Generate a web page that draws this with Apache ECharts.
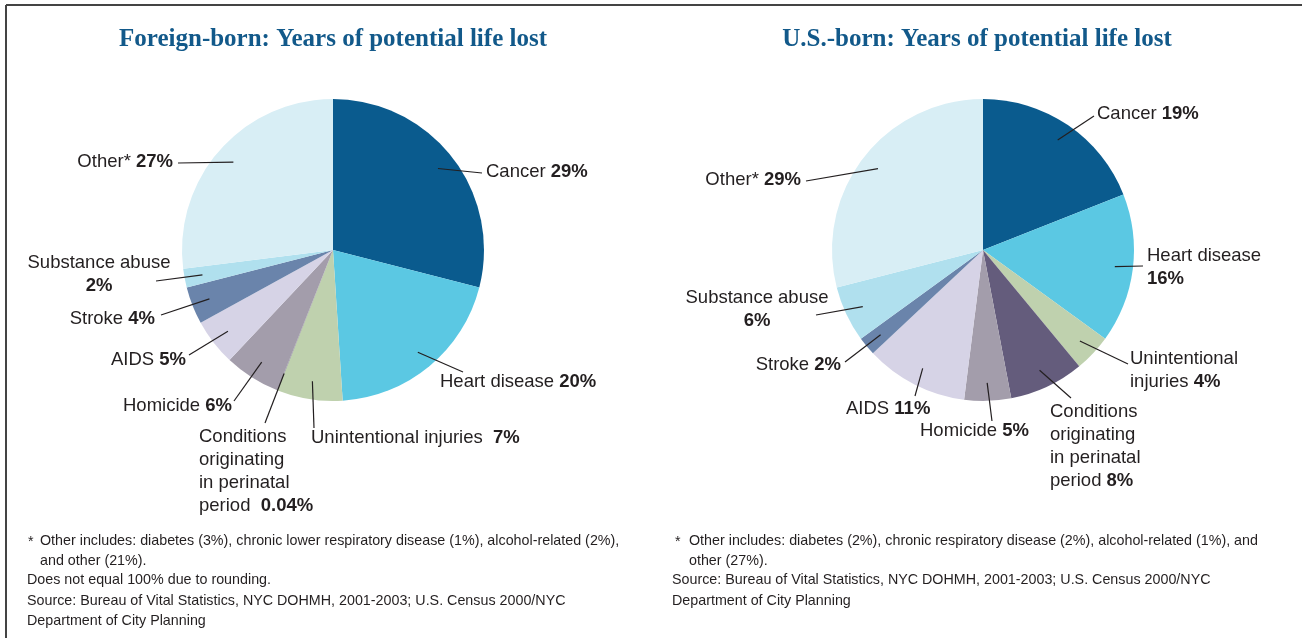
<!DOCTYPE html>
<html>
<head>
<meta charset="utf-8">
<script src="https://cdn.jsdelivr.net/npm/echarts@6/dist/echarts.min.js"></script>
<style>
  html, body { margin: 0; padding: 0; background: #fff; }
  #chart { width: 1302px; height: 638px; }
</style>
</head>
<body>
<div id="chart"></div>
<script>
// causes, clockwise from 12 o'clock
const causes = ['Cancer', 'Heart disease', 'Unintentional injuries', 'Conditions originating in perinatal period',
  'Homicide', 'AIDS', 'Stroke', 'Substance abuse', 'Other*'];
const foreignBorn = [29, 20, 7, 0.04, 6, 5, 4, 2, 27];
const usBorn = [19, 16, 4, 8, 5, 11, 2, 6, 29];

// label text (line breaks differ between the two charts)
const foreignLabelNames = ['Cancer', 'Heart disease', 'Unintentional injuries ', 'Conditions\noriginating\nin perinatal\nperiod ',
  'Homicide', 'AIDS', 'Stroke', 'Substance abuse\n', 'Other*'];
const usLabelNames = ['Cancer', 'Heart disease\n', 'Unintentional\ninjuries', 'Conditions\noriginating\nin perinatal\nperiod',
  'Homicide', 'AIDS', 'Stroke', 'Substance abuse\n', 'Other*'];
const foreignPct = ['29%', '20%', '7%', '0.04%', '6%', '5%', '4%', '2%', '27%'];
const usPct = ['19%', '16%', '4%', '8%', '5%', '11%', '2%', '6%', '29%'];

const sliceColors = ['#0a5b8e', '#5bc8e3', '#bfd1ae', '#645c7c', '#a39dab', '#d6d3e6', '#6a84ab', '#b0e0ee', '#d8eef5'];

// label placement: anchor, alignment, where the leader line ends
const foreignLabelPos = [
  { x: 486, y: 172, align: 'left', end: [482, 173] },
  { x: 440, y: 382, align: 'left', end: [463, 372] },
  { x: 311, y: 438, align: 'left', end: [314, 428] },
  { x: 199, y: 471, align: 'left', end: [265, 423] },
  { x: 232, y: 406, align: 'right', end: [234, 401] },
  { x: 186, y: 360, align: 'right', end: [189, 355] },
  { x: 155, y: 319, align: 'right', end: [161, 315] },
  { x: 99, y: 274, align: 'center', end: [156, 281] },
  { x: 173, y: 162, align: 'right', end: [178, 163] }
];
const usLabelPos = [
  { x: 1097, y: 114, align: 'left', end: [1094, 116] },
  { x: 1147, y: 267, align: 'left', end: [1143, 266] },
  { x: 1130, y: 370, align: 'left', end: [1128, 364] },
  { x: 1050, y: 446, align: 'left', end: [1071, 398] },
  { x: 920, y: 431, align: 'left', end: [992, 421] },
  { x: 846, y: 409, align: 'left', end: [915, 396] },
  { x: 841, y: 365, align: 'right', end: [845, 362] },
  { x: 757, y: 309, align: 'center', end: [816, 315] },
  { x: 801, y: 180, align: 'right', end: [806, 181] }
];

const pieCenters = [[333, 250], [983, 250]];
const pieRadius = 151;
const labelFont = 'Liberation Sans, Arial, sans-serif';

const chart = echarts.init(document.getElementById('chart'));

// coloured slices, no labels
function sliceSeries(idx, values) {
  return {
    type: 'pie',
    center: pieCenters[idx],
    radius: pieRadius,
    startAngle: 90,
    silent: true,
    z: 2,
    itemStyle: { borderWidth: 0 },
    label: { show: false },
    labelLine: { show: false },
    data: values.map((v, i) => ({ name: causes[i], value: v, itemStyle: { color: sliceColors[i] } }))
  };
}

// same pie, transparent, on top: carries labels and leader lines
function labelSeries(idx, values, names, pcts, pos) {
  const c = pieCenters[idx];
  return {
    type: 'pie',
    center: c,
    radius: pieRadius,
    startAngle: 90,
    silent: true,
    z: 5,
    avoidLabelOverlap: false,
    itemStyle: { color: 'rgba(0,0,0,0)', borderWidth: 0 },
    label: {
      show: true,
      position: 'outside',
      formatter: p => {
        const n = names[p.dataIndex];
        return '{n|' + n + '}' + (n.endsWith('\n') ? '' : ' ') + '{b|' + pcts[p.dataIndex] + '}';
      },
      color: '#231f20',
      fontFamily: labelFont,
      fontSize: 18.5,
      lineHeight: 23,
      rich: {
        n: { fontSize: 18.5, lineHeight: 23, color: '#231f20', fontFamily: labelFont },
        b: { fontSize: 18.5, lineHeight: 23, fontWeight: 'bold', color: '#231f20', fontFamily: labelFont }
      }
    },
    labelLine: {
      show: true,
      length: 10,
      length2: 10,
      lineStyle: { color: '#231f20', width: 1.2 }
    },
    labelLayout: params => {
      const p = pos[params.dataIndex];
      const edge = params.labelLinePoints ? params.labelLinePoints[0] : p.end;
      const k = 0.88;
      const start = [c[0] + (edge[0] - c[0]) * k, c[1] + (edge[1] - c[1]) * k];
      return {
        x: p.x, y: p.y, align: p.align, verticalAlign: 'middle',
        labelLinePoints: [start, p.end, p.end]
      };
    },
    data: values.map((v, i) => ({ name: causes[i], value: v }))
  };
}

const noteFont = '14.3px "Liberation Sans", Arial, sans-serif';
function note(text, x, y) {
  return { type: 'text', silent: true, style: { text, x, y, font: noteFont, fill: '#231f20', textVerticalAlign: 'middle' } };
}
const titleFont = 'bold 25px "Liberation Serif", "Times New Roman", serif';

chart.setOption({
  animation: false,
  series: [
    sliceSeries(0, foreignBorn),
    sliceSeries(1, usBorn),
    labelSeries(0, foreignBorn, foreignLabelNames, foreignPct, foreignLabelPos),
    labelSeries(1, usBorn, usLabelNames, usPct, usLabelPos)
  ],
  graphic: [
    { type: 'line', silent: true, shape: { x1: 6, y1: 5, x2: 1302, y2: 5 }, style: { stroke: '#444', lineWidth: 2 } },
    { type: 'line', silent: true, shape: { x1: 6, y1: 5, x2: 6, y2: 638 }, style: { stroke: '#444', lineWidth: 2 } },
    { type: 'text', silent: true, style: { text: 'Foreign-born: Years of potential life lost', x: 333, y: 40,
      font: titleFont, fill: '#12598a', textAlign: 'center', textVerticalAlign: 'middle' } },
    { type: 'text', silent: true, style: { text: 'U.S.-born: Years of potential life lost', x: 977, y: 40,
      font: titleFont, fill: '#12598a', textAlign: 'center', textVerticalAlign: 'middle' } },
    note('*', 28, 542),
    note('Other includes: diabetes (3%), chronic lower respiratory disease (1%), alcohol-related (2%),', 40, 541),
    note('and other (21%).', 40, 561),
    note('Does not equal 100% due to rounding.', 27, 580),
    note('Source: Bureau of Vital Statistics, NYC DOHMH, 2001-2003; U.S. Census 2000/NYC', 27, 601),
    note('Department of City Planning', 27, 621),
    note('*', 675, 542),
    note('Other includes: diabetes (2%), chronic respiratory disease (2%), alcohol-related (1%), and', 689, 541),
    note('other (27%).', 689, 561),
    note('Source: Bureau of Vital Statistics, NYC DOHMH, 2001-2003; U.S. Census 2000/NYC', 672, 580),
    note('Department of City Planning', 672, 601)
  ]
});
</script>
</body>
</html>
